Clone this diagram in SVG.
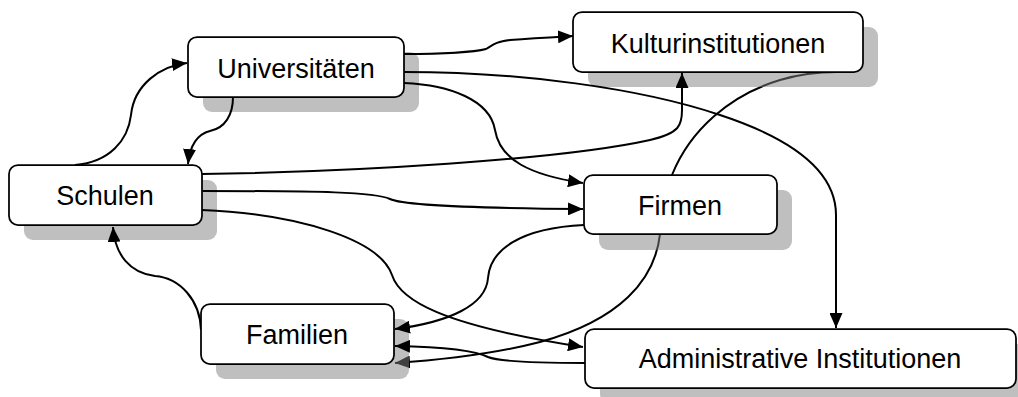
<svg xmlns="http://www.w3.org/2000/svg" width="1018" height="397" viewBox="0 0 1018 397">
<style>
.box{fill:#ffffff;stroke:#000000;stroke-width:1.75}
.shadow{fill:#808080;fill-opacity:0.5}
.lbl{font-family:"Liberation Sans",Arial,sans-serif;font-size:27px;fill:#000000;text-anchor:middle}
.c{fill:none;stroke:#000000;stroke-width:2}
.arr{marker-end:url(#ah)}
</style>
<defs>
<marker id="ah" markerWidth="15" markerHeight="13" refX="15" refY="6.5" orient="auto" markerUnits="userSpaceOnUse">
<path d="M0,0 L15,6.5 L0,13 z" fill="#000000"/>
</marker>
</defs>
<rect width="1018" height="397" fill="#ffffff"/>
<g id="connectors-behind">
<path class="c arr" d="M660,234 C655,280 620,320 540,342 C490,355 440,360 395,363"/>
<path class="c" d="M672,175 C690,130 730,95 780,80 C800,74 820,72 837,72"/>
</g>
<g id="shadows">
<rect class="shadow" x="203" y="52" width="216" height="60" rx="9"/>
<rect class="shadow" x="588" y="27" width="290" height="60" rx="9"/>
<rect class="shadow" x="24" y="180" width="193" height="60" rx="9"/>
<rect class="shadow" x="599" y="190" width="193" height="60" rx="9"/>
<rect class="shadow" x="216" y="319" width="193" height="60" rx="9"/>
<rect class="shadow" x="600" y="344" width="431" height="59" rx="9"/>
</g>
<g id="connectors">
<path class="c arr" d="M75,165 C110,162 128,140 131,115 C134,85 160,66 187,63"/>
<path class="c arr" d="M233,97 C233,115 225,128 210,131 C198,134 190,145 188,164"/>
<path class="c arr" d="M404,54 C440,54 475,52 486,49 C493,45 495,42 510,40 C535,38 555,37 573,36"/>
<path class="c arr" d="M404,72 C520,72 640,88 720,115 C790,138 836,170 836,215 L836,328"/>
<path class="c arr" d="M404,83 C450,85 490,100 495,130 C500,160 530,175 583,183"/>
<path class="c arr" d="M202,174 C350,172 560,160 650,140 C680,133 682,125 682,110 L682,73"/>
<path class="c arr" d="M202,191 C320,191 375,192 390,199 C400,204 450,208 583,209"/>
<path class="c arr" d="M202,210 C300,214 380,240 392,275 C400,300 440,325 583,347"/>
<path class="c arr" d="M201,330 C200,300 180,278 155,276 C130,273 115,255 113,227"/>
<path class="c arr" d="M584,225 C520,228 490,250 488,278 C486,305 450,322 395,329"/>
<path class="c arr" d="M585,363 C540,363 500,362 488,357 C475,350 440,347 395,346"/>
</g>
<g id="node-universitaeten">
<rect class="box" x="188" y="37" width="216" height="60" rx="9"/>
<text class="lbl" x="296" y="78">Universitäten</text>
</g>
<g id="node-kulturinstitutionen">
<rect class="box" x="573" y="12" width="290" height="60" rx="9"/>
<text class="lbl" x="718" y="53">Kulturinstitutionen</text>
</g>
<g id="node-schulen">
<rect class="box" x="9" y="165" width="193" height="60" rx="9"/>
<text class="lbl" x="105" y="205">Schulen</text>
</g>
<g id="node-firmen">
<rect class="box" x="584" y="175" width="193" height="59" rx="9"/>
<text class="lbl" x="680" y="215">Firmen</text>
</g>
<g id="node-familien">
<rect class="box" x="201" y="304" width="193" height="60" rx="9"/>
<text class="lbl" x="297" y="344">Familien</text>
</g>
<g id="node-administrative">
<rect class="box" x="585" y="329" width="431" height="59" rx="9"/>
<text class="lbl" x="800" y="368">Administrative Institutionen</text>
</g>
</svg>
